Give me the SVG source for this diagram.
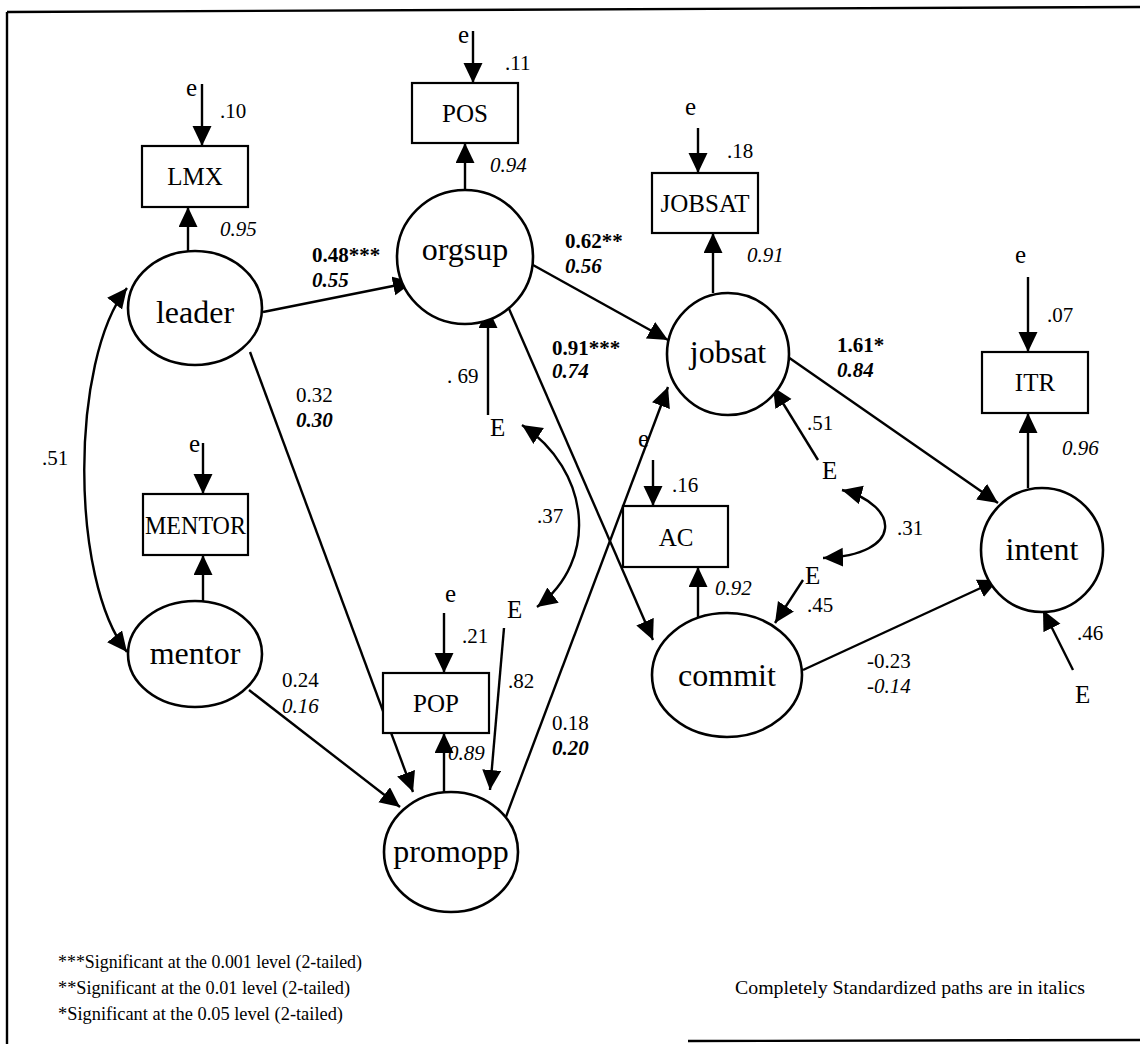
<svg xmlns="http://www.w3.org/2000/svg" width="1140" height="1044" viewBox="0 0 1140 1044" font-family="'Liberation Serif', 'Times New Roman', serif">
<defs>
<marker id="ah" markerUnits="userSpaceOnUse" markerWidth="22" markerHeight="20" refX="20" refY="9.5" orient="auto-start-reverse" viewBox="0 0 22 20">
<path d="M0,0 L20,9.5 L0,19 Z" fill="#000"/>
</marker>
<style>
.ln{stroke:#000;stroke-width:2.4;fill:none;marker-end:url(#ah)}
.dbl{stroke:#000;stroke-width:2.4;fill:none;marker-start:url(#ah);marker-end:url(#ah)}
.el{fill:#fff;stroke:#000;stroke-width:2.6}
.bx{fill:#fff;stroke:#000;stroke-width:2.2}
text{font-family:"Liberation Serif","Times New Roman",serif;fill:#000}
.nl{font-size:32px;text-anchor:middle}
.bl{font-size:25px;text-anchor:middle}
.n{font-size:21px}
.e{font-size:25px}
.i{font-style:italic}
.b{font-weight:bold}
.lg{font-size:18px}
</style>
</defs>
<rect x="0" y="0" width="1140" height="1044" fill="#fff"/>
<g id="frame" stroke="#000" stroke-width="2.4" fill="none">
<line x1="7" y1="12" x2="1140" y2="7"/>
<line x1="7" y1="12" x2="7" y2="1044"/>
<line x1="688" y1="1041" x2="1140" y2="1040"/>
</g>
<g id="connectors">
<line class="ln" x1="202" y1="84" x2="202" y2="146"/>
<line class="ln" x1="188" y1="252" x2="188" y2="207"/>
<line class="ln" x1="473" y1="31" x2="473" y2="83"/>
<line class="ln" x1="465" y1="190" x2="465" y2="143"/>
<line class="ln" x1="698" y1="128" x2="698" y2="173"/>
<line class="ln" x1="713" y1="293" x2="713" y2="233"/>
<line class="ln" x1="263" y1="312" x2="413" y2="282"/>
<line class="ln" x1="533" y1="265" x2="668" y2="340"/>
<line class="ln" x1="503" y1="295" x2="653" y2="640"/>
<line class="ln" x1="488" y1="415" x2="488" y2="308"/>
<path class="dbl" d="M522,425 C590,470 600,560 537,607"/>
<line class="ln" x1="504" y1="628" x2="490" y2="790"/>
<line class="ln" x1="444" y1="613" x2="444" y2="673"/>
<line class="ln" x1="444" y1="793" x2="444" y2="733"/>
<line class="ln" x1="250" y1="352" x2="413" y2="792"/>
<line class="ln" x1="249" y1="690" x2="400" y2="807"/>
<line class="ln" x1="504" y1="822" x2="668" y2="387"/>
<line class="ln" x1="653" y1="460" x2="653" y2="506"/>
<line class="ln" x1="698" y1="617" x2="698" y2="567"/>
<line class="ln" x1="788" y1="357" x2="998" y2="503"/>
<line class="ln" x1="818" y1="460" x2="773" y2="387"/>
<path class="dbl" d="M842,490 C900,505 905,555 823,558"/>
<line class="ln" x1="803" y1="580" x2="775" y2="623"/>
<line class="ln" x1="803" y1="670" x2="998" y2="580"/>
<line class="ln" x1="1073" y1="670" x2="1043" y2="610"/>
<line class="ln" x1="1028" y1="277" x2="1028" y2="352"/>
<line class="ln" x1="1028" y1="488" x2="1028" y2="413"/>
<path class="dbl" d="M127,288 C70,360 70,580 127,652"/>
<line class="ln" x1="203" y1="602" x2="203" y2="555"/>
<line class="ln" x1="203" y1="443" x2="203" y2="494"/>
</g>
<g id="LMX"><rect class="bx" x="142" y="146" width="106" height="61"/><text class="bl" x="195" y="185">LMX</text></g>
<g id="POS"><rect class="bx" x="412" y="83" width="106" height="60"/><text class="bl" x="465" y="122">POS</text></g>
<g id="JOBSAT"><rect class="bx" x="652" y="173" width="106" height="60"/><text class="bl" x="705" y="212">JOBSAT</text></g>
<g id="MENTOR"><rect class="bx" x="143" y="494" width="105" height="61"/><text class="bl" x="195.5" y="534" textLength="101" lengthAdjust="spacingAndGlyphs">MENTOR</text></g>
<g id="POP"><rect class="bx" x="383" y="673" width="106" height="60"/><text class="bl" x="436" y="712">POP</text></g>
<g id="AC"><rect class="bx" x="623" y="506" width="105" height="61"/><text class="bl" x="676" y="546">AC</text></g>
<g id="ITR"><rect class="bx" x="982" y="352" width="106" height="61"/><text class="bl" x="1035" y="391">ITR</text></g>
<g id="leader"><ellipse class="el" cx="195" cy="308" rx="67" ry="57"/><text class="nl" x="195" y="323">leader</text></g>
<g id="orgsup"><ellipse class="el" cx="465" cy="257" rx="68" ry="67"/><text class="nl" x="465" y="260">orgsup</text></g>
<g id="jobsat"><ellipse class="el" cx="728" cy="354" rx="61" ry="61"/><text class="nl" x="728" y="363">jobsat</text></g>
<g id="mentor"><ellipse class="el" cx="195" cy="654" rx="67" ry="53"/><text class="nl" x="195" y="664">mentor</text></g>
<g id="promopp"><ellipse class="el" cx="451" cy="852" rx="67" ry="60"/><text class="nl" x="451" y="862">promopp</text></g>
<g id="commit"><ellipse class="el" cx="727" cy="675" rx="75" ry="62"/><text class="nl" x="727" y="686">commit</text></g>
<g id="intent"><ellipse class="el" cx="1042" cy="550" rx="61" ry="62"/><text class="nl" x="1042" y="560">intent</text></g>
<g id="labels">
<text class="e" x="186" y="96">e</text>
<text class="e" x="458" y="43">e</text>
<text class="e" x="685" y="115">e</text>
<text class="e" x="189" y="452">e</text>
<text class="e" x="445" y="602">e</text>
<text class="e" x="638" y="447">e</text>
<text class="e" x="1015" y="263">e</text>
<text class="e" x="490" y="436">E</text>
<text class="e" x="507" y="618">E</text>
<text class="e" x="822" y="479">E</text>
<text class="e" x="805" y="584">E</text>
<text class="e" x="1075" y="703">E</text>
<text class="n" x="220" y="118">.10</text>
<text class="n i" x="220" y="236">0.95</text>
<text class="n b" x="312" y="262">0.48***</text>
<text class="n b i" x="312" y="287">0.55</text>
<text class="n" x="505" y="70">.11</text>
<text class="n i" x="490" y="172">0.94</text>
<text class="n" x="727" y="158">.18</text>
<text class="n i" x="747" y="262">0.91</text>
<text class="n b" x="565" y="248">0.62**</text>
<text class="n b i" x="565" y="273">0.56</text>
<text class="n b" x="552" y="355">0.91***</text>
<text class="n b i" x="552" y="378">0.74</text>
<text class="n" x="447" y="383">. 69</text>
<text class="n" x="537" y="523">.37</text>
<text class="n" x="508" y="688">.82</text>
<text class="n" x="462" y="643">.21</text>
<text class="n i" x="448" y="760">0.89</text>
<text class="n" x="296" y="402">0.32</text>
<text class="n b i" x="296" y="427">0.30</text>
<text class="n" x="282" y="687">0.24</text>
<text class="n i" x="282" y="713">0.16</text>
<text class="n" x="552" y="730">0.18</text>
<text class="n b i" x="552" y="755">0.20</text>
<text class="n" x="672" y="492">.16</text>
<text class="n i" x="715" y="595">0.92</text>
<text class="n b" x="837" y="352">1.61*</text>
<text class="n b i" x="837" y="377">0.84</text>
<text class="n" x="807" y="430">.51</text>
<text class="n" x="897" y="535">.31</text>
<text class="n" x="807" y="612">.45</text>
<text class="n" x="867" y="668">-0.23</text>
<text class="n i" x="867" y="693">-0.14</text>
<text class="n" x="1077" y="640">.46</text>
<text class="n i" x="1062" y="455">0.96</text>
<text class="n" x="1047" y="322">.07</text>
<text class="n" x="42" y="465">.51</text>
</g>
<g id="legend">
<text class="lg" x="58" y="968" textLength="304" lengthAdjust="spacingAndGlyphs">***Significant at the 0.001 level (2-tailed)</text>
<text class="lg" x="58" y="994" textLength="292" lengthAdjust="spacingAndGlyphs">**Significant at the 0.01 level (2-tailed)</text>
<text class="lg" x="58" y="1020" textLength="285" lengthAdjust="spacingAndGlyphs">*Significant at the 0.05 level (2-tailed)</text>
<text class="lg" x="735" y="994" textLength="350" lengthAdjust="spacingAndGlyphs">Completely Standardized paths are in italics</text>
</g>
</svg>
